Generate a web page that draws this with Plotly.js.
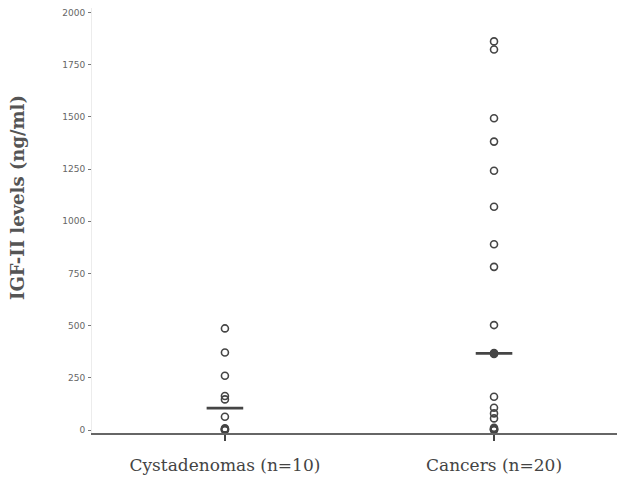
<!DOCTYPE html>
<html>
<head>
<meta charset="utf-8">
<script src="https://cdn.plot.ly/plotly-3.0.1.min.js"></script>
<style>
  html, body { margin: 0; padding: 0; background: #fff; }
  #chart { width: 617px; height: 482px; }
</style>
</head>
<body>
<div id="chart"></div>
<script>
// Group labels and positions on the x axis
const groups = ["Cystadenomas (n=10)", "Cancers (n=20)"];
const groupPos = [0, 1];

// IGF-II levels (ng/ml) per patient
const cystadenomas = [0, 2, 5, 8, 64, 147, 163, 260, 372, 487];
const cancers = [0, 2, 4, 6, 11, 56, 80, 107, 160, 365, 369, 503, 782, 890, 1070, 1242, 1382, 1494, 1823, 1862];

// Y axis ticks and title
const yTicks = [0, 250, 500, 750, 1000, 1250, 1500, 1750, 2000];
const yTitle = "IGF-II levels (ng/ml)";

function median(arr) {
  const s = arr.slice().sort((a, b) => a - b);
  const n = s.length;
  return n % 2 ? s[(n - 1) / 2] : (s[n / 2 - 1] + s[n / 2]) / 2;
}

const ink = "#454545";
const halfBar = 0.068;

const traces = [];
[cystadenomas, cancers].forEach((vals, i) => {
  traces.push({
    type: "scatter", mode: "markers",
    x: vals.map(() => groupPos[i]), y: vals,
    marker: { symbol: "circle-open", size: 7, color: ink, line: { width: 1.6, color: ink } },
    hoverinfo: "y", showlegend: false, cliponaxis: false
  });
  const m = median(vals);
  traces.push({
    type: "scatter", mode: "lines",
    x: [groupPos[i] - halfBar, groupPos[i] + halfBar], y: [m, m],
    line: { color: ink, width: 2.8 },
    hoverinfo: "skip", showlegend: false
  });
});
// filled marker at the cancer group median
traces.push({
  type: "scatter", mode: "markers",
  x: [groupPos[1]], y: [median(cancers)],
  marker: { symbol: "circle", size: 8, color: ink },
  hoverinfo: "y", showlegend: false
});

const layout = {
  width: 617, height: 482,
  margin: { l: 92, r: 0, t: 8, b: 49 },
  paper_bgcolor: "#fff", plot_bgcolor: "#fff",
  showlegend: false,
  xaxis: {
    range: [-0.494, 1.457],
    tickvals: groupPos, ticktext: groups,
    ticks: "outside", ticklen: 6, tickwidth: 1.2, tickcolor: ink,
    ticklabelstandoff: 10,
    tickfont: { family: "DejaVu Serif, serif", size: 17, color: "#444" },
    showline: true, linecolor: "#666", linewidth: 1.5,
    showgrid: false, zeroline: false, fixedrange: true
  },
  yaxis: {
    range: [-14, 2022],
    tickvals: yTicks, ticktext: yTicks.map(String),
    ticks: "outside", ticklen: 3, tickwidth: 1, tickcolor: "#777",
    ticklabelstandoff: 1,
    tickfont: { family: "DejaVu Sans, sans-serif", size: 9, color: "#666" },
    showline: true, linecolor: "#ececec", linewidth: 1,
    showgrid: false, zeroline: false
  },
  // vertical axis title, set a little above the middle of the axis
  annotations: [{
    text: "<b>" + yTitle + "</b>",
    textangle: -90,
    xref: "paper", yref: "paper",
    x: -74 / 525, y: 0.553,
    xanchor: "center", yanchor: "middle",
    showarrow: false,
    font: { family: "DejaVu Serif, serif", size: 18, color: "#555" }
  }]
};

Plotly.newPlot("chart", traces, layout, { displayModeBar: false, staticPlot: true });
</script>
</body>
</html>
